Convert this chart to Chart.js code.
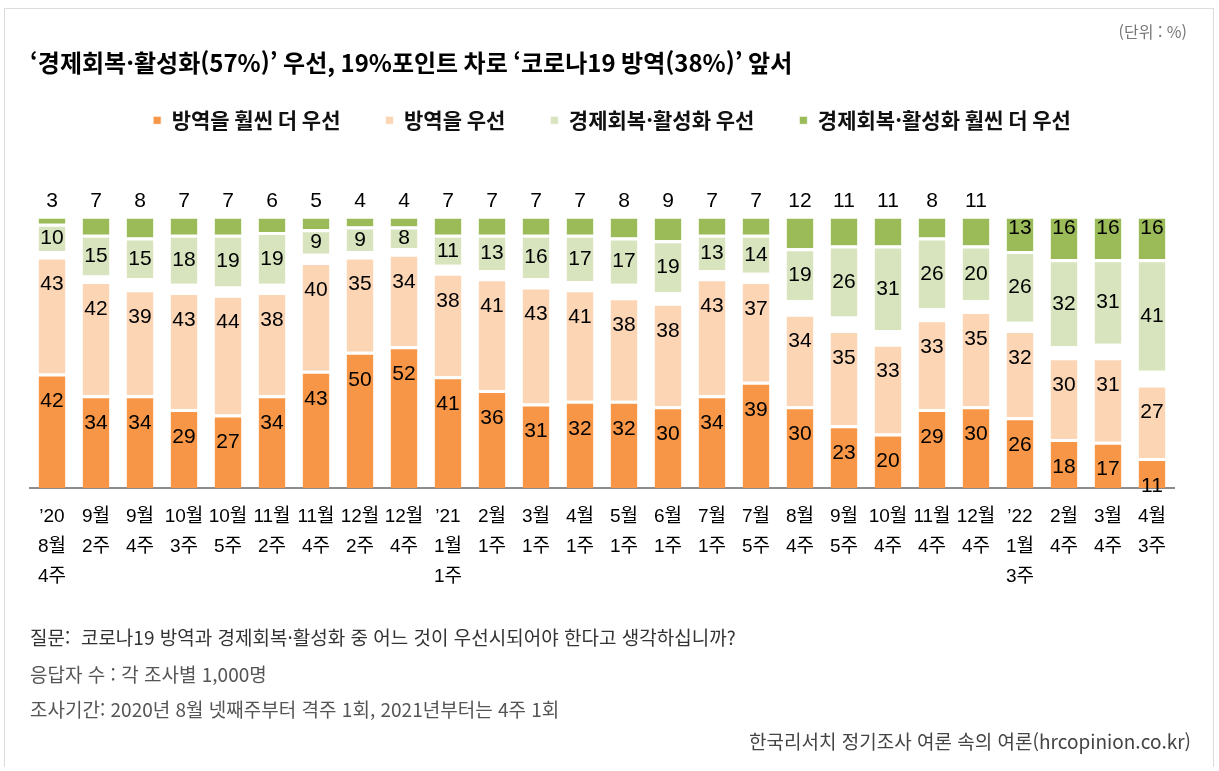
<!DOCTYPE html>
<html lang="ko">
<head>
<meta charset="utf-8">
<title>코로나19 방역 vs 경제회복·활성화</title>
<script src="https://cdn.jsdelivr.net/npm/chart.js@4/dist/chart.umd.min.js"></script>
<style>
  body { margin: 0; background: #fff; }
  #wrap { position: relative; width: 1219px; height: 771px; font-family: "Noto Sans CJK KR", sans-serif; }
  #frame { position: absolute; left: 4px; top: 8px; width: 1208px; height: 758px; border: 1px solid #dcdcdc; border-bottom: none; }
  #box { position: absolute; left: 0; top: 0; width: 1219px; height: 771px; }
  .unit { position: absolute; right: 32px; top: 19px; font-size: 16px; color: #777; }
  .note { position: absolute; left: 30px; font-size: 19px; color: #555; white-space: nowrap; }
  .q { color: #333; }
  .src { position: absolute; right: 28px; top: 727px; font-size: 19px; color: #444; }
</style>
</head>
<body>
<div id="wrap">
  <div id="frame"></div>
  <div id="box"><canvas id="grafico"></canvas></div>
  <div class="unit">(단위 : %)</div>
  <div class="note q" style="top:623px">질문:&nbsp; 코로나19 방역과 경제회복·활성화 중 어느 것이 우선시되어야 한다고 생각하십니까?</div>
  <div class="note" style="top:660px">응답자 수 : 각 조사별 1,000명</div>
  <div class="note" style="top:695px">조사기간: 2020년 8월 넷째주부터 격주 1회, 2021년부터는 4주 1회</div>
  <div class="src">한국리서치 정기조사 여론 속의 여론(hrcopinion.co.kr)</div>
</div>
<script>
const categorias = [
    ['’20', '8월', '4주'], ['9월', '2주'], ['9월', '4주'], ['10월', '3주'], ['10월', '5주'],
    ['11월', '2주'], ['11월', '4주'], ['12월', '2주'], ['12월', '4주'],
    ['’21', '1월', '1주'], ['2월', '1주'], ['3월', '1주'], ['4월', '1주'], ['5월', '1주'],
    ['6월', '1주'], ['7월', '1주'], ['7월', '5주'], ['8월', '4주'], ['9월', '5주'],
    ['10월', '4주'], ['11월', '4주'], ['12월', '4주'],
    ['’22', '1월', '3주'], ['2월', '4주'], ['3월', '4주'], ['4월', '3주']
];

// 방역을 훨씬 더 우선
const muchQuarantine = [42, 34, 34, 29, 27, 34, 43, 50, 52, 41, 36, 31, 32, 32, 30, 34, 39, 30, 23, 20, 29, 30, 26, 18, 17, 11];
// 방역을 우선
const quarantine = [43, 42, 39, 43, 44, 38, 40, 35, 34, 38, 41, 43, 41, 38, 38, 43, 37, 34, 35, 33, 33, 35, 32, 30, 31, 27];
// 경제회복·활성화 우선
const economy = [10, 15, 15, 18, 19, 19, 9, 9, 8, 11, 13, 16, 17, 17, 19, 13, 14, 19, 26, 31, 26, 20, 26, 32, 31, 41];
// 경제회복·활성화 훨씬 더 우선
const muchEconomy = [3, 7, 8, 7, 7, 6, 5, 4, 4, 7, 7, 7, 7, 8, 9, 7, 7, 12, 11, 11, 8, 11, 13, 16, 16, 16];

// 모름/무응답 (빈 칸으로 남는 부분)
const rest = categorias.map((c, i) => 100 - muchQuarantine[i] - quarantine[i] - economy[i] - muchEconomy[i]);

const valueLabels = {
    id: 'valueLabels',
    afterLayout(chart) {
        chart.legend.left += 10;
        chart.legend.right += 10;
    },
    afterDatasetsDraw(chart) {
        const ctx = chart.ctx;
        ctx.save();
        ctx.font = '21px "Liberation Sans", Arial, sans-serif';
        ctx.fillStyle = '#000';
        ctx.textAlign = 'center';
        ctx.textBaseline = 'middle';
        chart.data.datasets.forEach((ds, i) => {
            if (!ds.labelPos) return;
            chart.getDatasetMeta(i).data.forEach((bar, j) => {
                const v = ds.data[j];
                const p = bar.getProps(['x', 'y', 'base'], true);
                let ty;
                if (ds.labelPos === 'inside') {
                    ty = p.y + 28;
                } else if (ds.labelPos === 'center') {
                    ty = (p.y + p.base) / 2 + 1;
                } else {
                    ty = v >= 13 ? p.y + 13 : p.y - 14;
                }
                ctx.fillText(v, p.x, ty);
            });
        });
        ctx.restore();
    }
};

const ctx = document.getElementById('grafico').getContext('2d');

const comun = {
    borderColor: '#ffffff',
    borderWidth: { top: 3, right: 0, bottom: 0, left: 0 },
    borderSkipped: false,
    barPercentage: 0.61,
    categoryPercentage: 1
};

new Chart(ctx, {
    type: 'bar',
    data: {
        labels: categorias,
        datasets: [
            { ...comun, label: '방역을 훨씬 더 우선', data: muchQuarantine, backgroundColor: '#F79646', labelPos: 'inside' },
            { ...comun, label: '방역을 우선', data: quarantine, backgroundColor: '#FCD5B5', labelPos: 'inside' },
            { ...comun, label: '모름/무응답', data: rest, backgroundColor: 'rgba(0,0,0,0)', borderWidth: 0 },
            { ...comun, label: '경제회복·활성화 우선', data: economy, backgroundColor: '#D7E4BD', labelPos: 'center' },
            { ...comun, label: '경제회복·활성화 훨씬 더 우선', data: muchEconomy, backgroundColor: '#9BBB59', labelPos: 'top' }
        ]
    },
    options: {
        responsive: true,
        maintainAspectRatio: false,
        animation: false,
        layout: {
            padding: { top: 0, left: 30, right: 45, bottom: 173 }
        },
        plugins: {
            title: {
                display: true,
                text: '‘경제회복·활성화(57%)’ 우선, 19%포인트 차로 ‘코로나19 방역(38%)’ 앞서',
                align: 'start',
                color: '#000',
                font: { family: '"Noto Sans CJK KR", sans-serif', size: 24, weight: 'bold', lineHeight: 1.2 },
                padding: { top: 48, bottom: -12 }
            },
            legend: {
                display: true,
                labels: {
                    filter: item => item.text !== '모름/무응답',
                    color: '#111',
                    boxWidth: 8,
                    boxHeight: 8,
                    padding: 45,
                    font: { family: '"Noto Sans CJK KR", sans-serif', size: 21, weight: 'bold' }
                }
            },
            tooltip: { enabled: false }
        },
        scales: {
            x: {
                stacked: true,
                grid: { display: false },
                border: { display: true, color: '#8c8c8c', width: 2 },
                ticks: {
                    color: '#000',
                    autoSkip: false,
                    maxRotation: 0,
                    padding: 6,
                    font: { family: '"Liberation Sans", "Noto Sans CJK KR", sans-serif', size: 19, lineHeight: 1.58 }
                }
            },
            y: {
                stacked: true,
                display: false,
                min: 0,
                max: 127.5
            }
        }
    },
    plugins: [valueLabels]
});
</script>
</body>
</html>
